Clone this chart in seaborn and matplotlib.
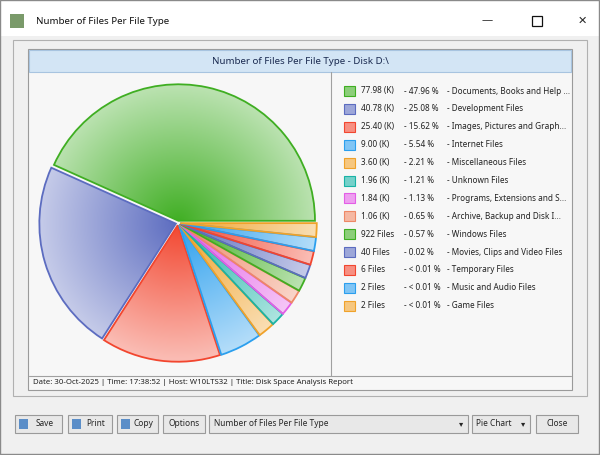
import numpy as np
import matplotlib
matplotlib.use("Agg")
import matplotlib.pyplot as plt
import matplotlib.patches as mpatches
import matplotlib.colors as mcolors
import seaborn as sns

# data
file_types = ["Documents, Books and Help ...", "Development Files", "Images, Pictures and Graph...",
              "Internet Files", "Miscellaneous Files", "Unknown Files", "Programs, Extensions and S...",
              "Archive, Backup and Disk I...", "Windows Files", "Movies, Clips and Video Files",
              "Temporary Files", "Music and Audio Files", "Game Files"]
count_labels = ["77.98 (K)", "40.78 (K)", "25.40 (K)", "9.00 (K)", "3.60 (K)", "1.96 (K)", "1.84 (K)",
                "1.06 (K)", "922 Files", "40 Files", "6 Files", "2 Files", "2 Files"]
percent_labels = ["47.96 %", "25.08 %", "15.62 %", "5.54 %", "2.21 %", "1.21 %", "1.13 %",
                  "0.65 %", "0.57 %", "0.02 %", "< 0.01 %", "< 0.01 %", "< 0.01 %"]
percents = [47.96, 25.08, 15.62, 5.54, 2.21, 1.21, 1.13, 0.65, 0.57, 0.02, 0.005, 0.001, 0.001]

palette = ["#3fae22", "#5c6cc0", "#f2462f", "#2b9fee", "#f0a22a", "#19b3a6", "#e35de6", "#ee8866"]
colors = [palette[i % len(palette)] for i in range(len(percents))]

sns.set_style("white")
plt.rcParams['font.family'] = ['Noto Sans', 'DejaVu Sans']

W, H = 600, 455
fig = plt.figure(figsize=(6, 4.55), dpi=100)
bg = fig.add_axes([0, 0, 1, 1])
bg.set_xlim(0, W)
bg.set_ylim(H, 0)
bg.axis("off")

def rect(x0, y0, x1, y1, fc, ec="none", lw=0.8, z=1):
    bg.add_patch(mpatches.Rectangle((x0, y0), x1 - x0, y1 - y0, facecolor=fc, edgecolor=ec, lw=lw, zorder=z))

# window chrome
rect(0, 0, W, H, "#f0f0f0")
rect(0, 0, W, 36, "white")
rect(0, 0, W - 1, H - 1, "none", ec="#8a8a8a", lw=1, z=5)
rect(10, 14, 24, 28, "#7a9a6a", z=2)
bg.text(36, 22, "Number of Files Per File Type", fontsize=7, va="center", color="#111")
bg.text(487, 21, "\u2014", fontsize=8, ha="center", va="center")
rect(532, 16, 542, 26, "none", ec="#111", lw=0.9)
bg.text(582, 21, "\u2715", fontsize=8, ha="center", va="center", family="DejaVu Sans")

# chart panel
rect(13, 40, 587, 396, "#f0f0f0", ec="#b0b0b0")
rect(28, 49, 572, 390, "#f7f7f7", ec="#9a9a9a", z=2)
rect(29, 50, 571, 72, "#d3e5f5", ec="#a8c4e0", z=2)
bg.text(300, 61, "Number of Files Per File Type - Disk D:\\", fontsize=7, fontweight="bold",
        ha="center", va="center", color="#1a2a50", zorder=3)
bg.plot([331, 331], [72, 376], color="#a0a0a0", lw=0.8, zorder=3)
bg.plot([29, 571], [376, 376], color="#a0a0a0", lw=0.8, zorder=3)
bg.text(33, 383, "Date: 30-Oct-2025 | Time: 17:38:52 | Host: W10LTS32 | Title: Disk Space Analysis Report",
        fontsize=5.6, va="center", color="#222", zorder=3)

# legend
for i, (c, cl, pl, name) in enumerate(zip(colors, count_labels, percent_labels, file_types)):
    y = 91 + i * 17.9
    rect(344, y - 5, 355, y + 5, mcolors.to_hex(np.array(mcolors.to_rgb(c)) * 0.6 + 0.4), ec=c, z=3)
    bg.text(361, y, cl, fontsize=5.9, va="center", color="#222", zorder=3)
    bg.text(404, y, "- " + pl, fontsize=5.9, va="center", color="#222", zorder=3)
    bg.text(447, y, "- " + name, fontsize=5.9, va="center", color="#222", zorder=3)

# bottom buttons
buttons = [(15, 62, "Save"), (68, 112, "Print"), (117, 158, "Copy"), (163, 205, "Options"),
           (209, 468, "Number of Files Per File Type"), (472, 530, "Pie Chart"), (536, 578, "Close")]
for x0, x1, label in buttons:
    rect(x0, 415, x1, 433, "#e8e8e8", ec="#9a9a9a", z=2)
    left = x0 + 5 if x1 - x0 > 80 else (x0 + x1) / 2 + (6 if label in ("Save", "Print", "Copy") else 0)
    ha = "left" if x1 - x0 > 80 or label == "Pie Chart" else "center"
    if label == "Pie Chart":
        left = x0 + 4
    bg.text(left, 424, label, fontsize=6, ha=ha, va="center", zorder=3)
    if label in ("Save", "Print", "Copy"):
        rect(x0 + 4, 419, x0 + 13, 429, "#5b8ec8", z=3)
    if x1 - x0 > 50 and label != "Close":
        bg.text(x1 - 7, 424, "\u25be", fontsize=6, ha="center", va="center", zorder=3, family="DejaVu Sans")

# pie: tiny slices get a minimum display size, like the app does
display = [max(p, 1.8) for p in percents]
cx, cy, r = 178, 223, 150
pax = fig.add_axes([(cx - r) / W, 1 - (cy + r) / H, 2 * r / W, 2 * r / H])
wedges, _ = pax.pie(display, startangle=0, counterclock=True, explode=[0.015] * len(display),
                    colors=["none"] * len(display), radius=0.91,
                    wedgeprops=dict(lw=1.3, edgecolor="white"))
pax.set_xlim(-1, 1)
pax.set_ylim(-1, 1)
pax.set_aspect("equal")

yy, xx = np.mgrid[1:-1:300j, -1:1:300j]
rr = np.clip(np.hypot(xx, yy) / 0.91, 0, 1)
for w, c in zip(wedges, colors):
    base = np.array(mcolors.to_rgb(c))
    light = base * 0.25 + 0.75
    img = base[None, None, :] * (1 - rr[..., None] * 0.85) + light[None, None, :] * (rr[..., None] * 0.85)
    im = pax.imshow(img, extent=(-1, 1, -1, 1), zorder=1)
    im.set_clip_path(w)
    w.set_edgecolor(c)
    w.set_zorder(2)
pax.axis("off")

fig.savefig("out.png", dpi=100)
